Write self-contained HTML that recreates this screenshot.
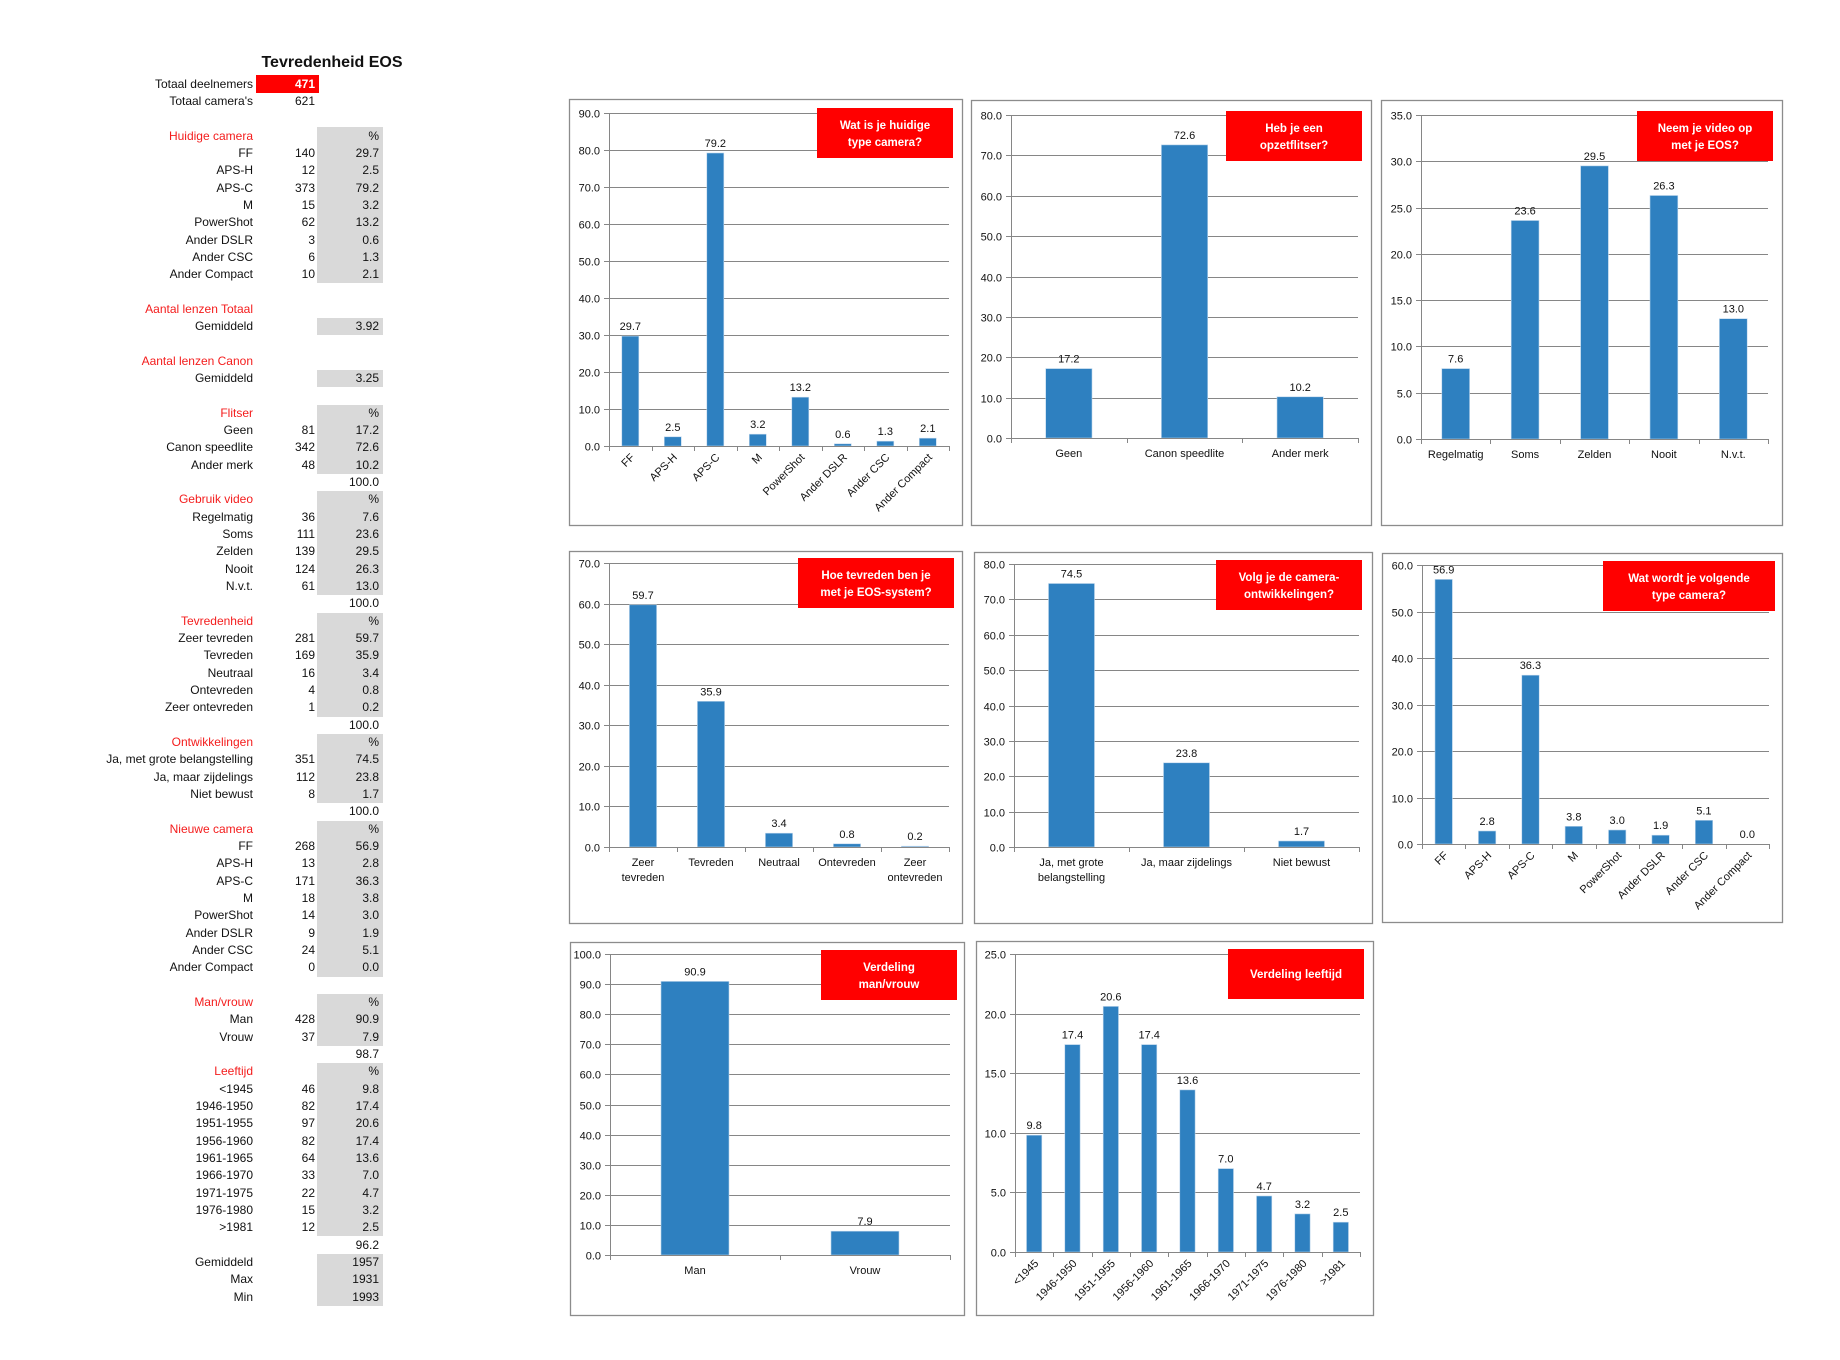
<!DOCTYPE html>
<html><head><meta charset="utf-8">
<style>
html,body{margin:0;padding:0;background:#fff;}
body{width:1840px;height:1360px;position:relative;overflow:hidden;font-family:"Liberation Sans",sans-serif;}
.t{position:absolute;font-size:12px;color:#111;white-space:nowrap;line-height:17px;}
.r{text-align:right;}
.red{color:#f41c1c;}
.g{position:absolute;background:#d9d9d9;left:317px;width:66px;}
svg{position:absolute;left:0;top:0;}
</style></head><body>
<div id="tbl"></div>
<svg id="sv" width="1840" height="1360" xmlns="http://www.w3.org/2000/svg"></svg>
<script>
var rows=[
[3,'Huidige camera','','%','h'],[4,'FF','140','29.7'],[5,'APS-H','12','2.5'],[6,'APS-C','373','79.2'],[7,'M','15','3.2'],[8,'PowerShot','62','13.2'],[9,'Ander DSLR','3','0.6'],[10,'Ander CSC','6','1.3'],[11,'Ander Compact','10','2.1'],
[13,'Aantal lenzen Totaal','','','h'],[14,'Gemiddeld','','3.92'],
[16,'Aantal lenzen Canon','','','h'],[17,'Gemiddeld','','3.25'],
[19,'Flitser','','%','h'],[20,'Geen','81','17.2'],[21,'Canon speedlite','342','72.6'],[22,'Ander merk','48','10.2'],[23,'','','100.0'],
[24,'Gebruik video','','%','h'],[25,'Regelmatig','36','7.6'],[26,'Soms','111','23.6'],[27,'Zelden','139','29.5'],[28,'Nooit','124','26.3'],[29,'N.v.t.','61','13.0'],[30,'','','100.0'],
[31,'Tevredenheid','','%','h'],[32,'Zeer tevreden','281','59.7'],[33,'Tevreden','169','35.9'],[34,'Neutraal','16','3.4'],[35,'Ontevreden','4','0.8'],[36,'Zeer ontevreden','1','0.2'],[37,'','','100.0'],
[38,'Ontwikkelingen','','%','h'],[39,'Ja, met grote belangstelling','351','74.5'],[40,'Ja, maar zijdelings','112','23.8'],[41,'Niet bewust','8','1.7'],[42,'','','100.0'],
[43,'Nieuwe camera','','%','h'],[44,'FF','268','56.9'],[45,'APS-H','13','2.8'],[46,'APS-C','171','36.3'],[47,'M','18','3.8'],[48,'PowerShot','14','3.0'],[49,'Ander DSLR','9','1.9'],[50,'Ander CSC','24','5.1'],[51,'Ander Compact','0','0.0'],
[53,'Man/vrouw','','%','h'],[54,'Man','428','90.9'],[55,'Vrouw','37','7.9'],[56,'','','98.7'],
[57,'Leeftijd','','%','h'],[58,'<1945','46','9.8'],[59,'1946-1950','82','17.4'],[60,'1951-1955','97','20.6'],[61,'1956-1960','82','17.4'],[62,'1961-1965','64','13.6'],[63,'1966-1970','33','7.0'],[64,'1971-1975','22','4.7'],[65,'1976-1980','15','3.2'],[66,'>1981','12','2.5'],[67,'','','96.2'],
[68,'Gemiddeld','','1957'],[69,'Max','','1931'],[70,'Min','','1993']];
var grays=[[3,11],[14,14],[17,17],[19,22],[24,29],[31,36],[38,41],[43,51],[53,55],[57,66],[68,70]];
var RH=17.33,Y0=84;
function cy(r){return Y0+r*RH;}
function esc(s){return s.replace(/&/g,'&amp;').replace(/</g,'&lt;').replace(/>/g,'&gt;');}
var h='';
grays.forEach(function(g){var t=cy(g[0])-RH/2,b=cy(g[1])+RH/2;h+='<div class="g" style="top:'+t.toFixed(1)+'px;height:'+(b-t).toFixed(1)+'px"></div>';});
h+='<div class="t" style="left:200px;width:264px;text-align:center;top:54px;font-size:16px;font-weight:bold;line-height:18px">Tevredenheid EOS</div>';
h+='<div style="position:absolute;left:256px;top:75px;width:63px;height:18px;background:#ff0000"></div>';
h+='<div class="t r" style="left:0;width:253px;top:75.5px">Totaal deelnemers</div>';
h+='<div class="t r" style="left:256px;width:59px;top:75.5px;color:#fff;font-weight:bold">471</div>';
h+='<div class="t r" style="left:0;width:253px;top:'+(cy(1)-8.5)+'px">Totaal camera\'s</div>';
h+='<div class="t r" style="left:256px;width:59px;top:'+(cy(1)-8.5)+'px">621</div>';
rows.forEach(function(r){var top=(cy(r[0])-8.5).toFixed(1);
 if(r[1])h+='<div class="t r'+(r[4]?' red':'')+'" style="left:0;width:253px;top:'+top+'px">'+esc(r[1])+'</div>';
 if(r[2])h+='<div class="t r" style="left:250px;width:65px;top:'+top+'px">'+r[2]+'</div>';
 if(r[3])h+='<div class="t r" style="left:317px;width:62px;top:'+top+'px">'+r[3]+'</div>';});
document.getElementById('tbl').innerHTML=h;

var charts=[
{b:[569,99,962,525],p:[609,113,949,446],max:90,st:10,c:['FF','APS-H','APS-C','M','PowerShot','Ander DSLR','Ander CSC','Ander Compact'],v:[29.7,2.5,79.2,3.2,13.2,0.6,1.3,2.1],rt:1,red:[817,108,953,158],t:['Wat is je huidige','type camera?']},
{b:[971,100,1371,525],p:[1011,115,1358,438],max:80,st:10,c:['Geen','Canon speedlite','Ander merk'],v:[17.2,72.6,10.2],red:[1226,111,1362,161],t:['Heb je een','opzetflitser?']},
{b:[1381,100,1782,525],p:[1421,115,1768,439],max:35,st:5,c:['Regelmatig','Soms','Zelden','Nooit','N.v.t.'],v:[7.6,23.6,29.5,26.3,13.0],red:[1637,111,1773,161],t:['Neem je video op','met je EOS?']},
{b:[569,551,962,923],p:[609,563,949,847],max:70,st:10,c:['Zeer|tevreden','Tevreden','Neutraal','Ontevreden','Zeer|ontevreden'],v:[59.7,35.9,3.4,0.8,0.2],red:[798,558,954,608],t:['Hoe tevreden ben je','met je EOS-system?']},
{b:[974,552,1372,923],p:[1014,564,1359,847],max:80,st:10,c:['Ja, met grote|belangstelling','Ja, maar zijdelings','Niet bewust'],v:[74.5,23.8,1.7],red:[1216,560,1362,610],t:['Volg je de camera-','ontwikkelingen?']},
{b:[1382,553,1782,922],p:[1422,565,1769,844],max:60,st:10,c:['FF','APS-H','APS-C','M','PowerShot','Ander DSLR','Ander CSC','Ander Compact'],v:[56.9,2.8,36.3,3.8,3.0,1.9,5.1,0.0],rt:1,red:[1603,561,1775,611],t:['Wat wordt je volgende','type camera?']},
{b:[570,942,964,1315],p:[610,954,950,1255],max:100,st:10,c:['Man','Vrouw'],v:[90.9,7.9],red:[821,950,957,1000],t:['Verdeling','man/vrouw']},
{b:[976,941,1373,1315],p:[1015,954,1360,1252],max:25,st:5,c:['<1945','1946-1950','1951-1955','1956-1960','1961-1965','1966-1970','1971-1975','1976-1980','>1981'],v:[9.8,17.4,20.6,17.4,13.6,7.0,4.7,3.2,2.5],rt:1,red:[1228,949,1364,999],t:['Verdeling leeftijd']}
];
var s='';
charts.forEach(function(C){
 var b=C.b,p=C.p;
 s+='<rect x="'+(b[0]+0.5)+'" y="'+(b[1]+0.5)+'" width="'+(b[2]-b[0])+'" height="'+(b[3]-b[1])+'" fill="#fff" stroke="#8c8c8c" stroke-width="1.3"/>';
 var H=p[3]-p[1],W=p[2]-p[0];
 for(var v=0;v<=C.max+1e-9;v+=C.st){
  var y=Math.round(p[3]-v/C.max*H)+0.5;
  if(v>0)s+='<line x1="'+p[0]+'" x2="'+p[2]+'" y1="'+y+'" y2="'+y+'" stroke="#868686" stroke-width="1"/>';
  s+='<line x1="'+(p[0]-5)+'" x2="'+p[0]+'" y1="'+y+'" y2="'+y+'" stroke="#868686"/>';
  s+='<text x="'+(p[0]-9)+'" y="'+(y+4)+'" text-anchor="end" font-size="11" fill="#111">'+v.toFixed(1)+'</text>';
 }
 var n=C.c.length,cw=W/n;
 C.v.forEach(function(val,i){
  var cx=p[0]+cw*(i+0.5),bw=cw*0.4,bh=val/C.max*H;
  s+='<rect x="'+(cx-bw/2).toFixed(1)+'" y="'+(p[3]-bh).toFixed(1)+'" width="'+bw.toFixed(1)+'" height="'+bh.toFixed(1)+'" fill="#2e80c0" stroke="#bcd5ec" stroke-width="0.6"/>';
  s+='<text x="'+cx.toFixed(1)+'" y="'+(p[3]-bh-6).toFixed(1)+'" text-anchor="middle" font-size="11" fill="#111">'+val.toFixed(1)+'</text>';
  var lab=C.c[i];
  if(C.rt){
   var ax=cx+5,ay=p[3]+12;
   s+='<text x="'+ax.toFixed(1)+'" y="'+ay+'" text-anchor="end" font-size="11" fill="#111" transform="rotate(-45 '+ax.toFixed(1)+' '+ay+')">'+esc(lab)+'</text>';
  } else {
   lab.split('|').forEach(function(L,k){
    s+='<text x="'+cx.toFixed(1)+'" y="'+(p[3]+19+k*15)+'" text-anchor="middle" font-size="11" fill="#111">'+esc(L)+'</text>';
   });
  }
 });
 s+='<line x1="'+(p[0]+0.5)+'" x2="'+(p[0]+0.5)+'" y1="'+p[1]+'" y2="'+(p[3]+5)+'" stroke="#868686"/>';
 s+='<line x1="'+p[0]+'" x2="'+p[2]+'" y1="'+(p[3]+0.5)+'" y2="'+(p[3]+0.5)+'" stroke="#868686"/>';
 for(var i=0;i<=n;i++){var tx=Math.round(p[0]+cw*i)+0.5;s+='<line x1="'+tx+'" x2="'+tx+'" y1="'+p[3]+'" y2="'+(p[3]+5)+'" stroke="#868686"/>';}
 var r=C.red;
 s+='<rect x="'+r[0]+'" y="'+r[1]+'" width="'+(r[2]-r[0])+'" height="'+(r[3]-r[1])+'" fill="#ff0000"/>';
 var mx=(r[0]+r[2])/2,my=(r[1]+r[3])/2;
 if(C.t.length==1)s+='<text x="'+mx+'" y="'+(my+4)+'" text-anchor="middle" font-size="11.5" font-weight="bold" fill="#fff">'+C.t[0]+'</text>';
 else{s+='<text x="'+mx+'" y="'+(my-4)+'" text-anchor="middle" font-size="11.5" font-weight="bold" fill="#fff">'+C.t[0]+'</text>';
 s+='<text x="'+mx+'" y="'+(my+13)+'" text-anchor="middle" font-size="11.5" font-weight="bold" fill="#fff">'+C.t[1]+'</text>';}
});
document.getElementById('sv').innerHTML=s;
</script>
</body></html>
